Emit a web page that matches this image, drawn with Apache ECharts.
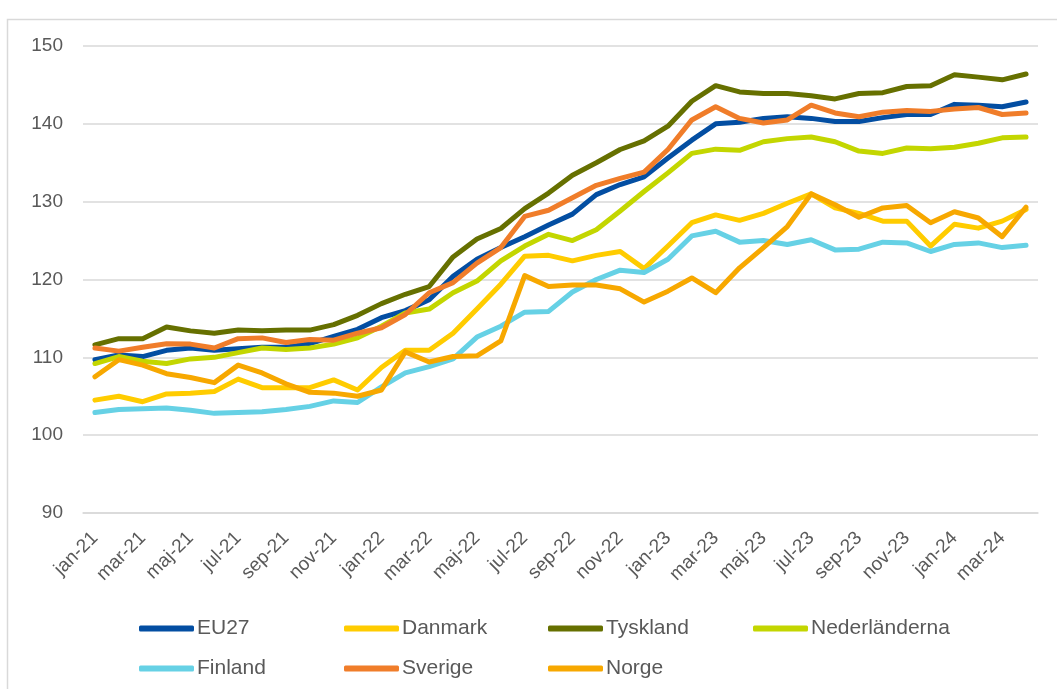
<!DOCTYPE html>
<html>
<head>
<meta charset="utf-8">
<script src="https://cdn.jsdelivr.net/npm/echarts@6/dist/echarts.min.js"></script>
<style>
  html, body { margin: 0; padding: 0; background: #fff; }
  #chart { width: 1057px; height: 689px; }
</style>
</head>
<body>
<div id="chart"></div>
<script>
// månader jan-21 .. apr-24
var months = ['jan-21', 'feb-21', 'mar-21', 'apr-21', 'maj-21', 'jun-21', 'jul-21', 'aug-21', 'sep-21', 'okt-21', 'nov-21', 'dec-21',
  'jan-22', 'feb-22', 'mar-22', 'apr-22', 'maj-22', 'jun-22', 'jul-22', 'aug-22', 'sep-22', 'okt-22', 'nov-22', 'dec-22',
  'jan-23', 'feb-23', 'mar-23', 'apr-23', 'maj-23', 'jun-23', 'jul-23', 'aug-23', 'sep-23', 'okt-23', 'nov-23', 'dec-23',
  'jan-24', 'feb-24', 'mar-24', 'apr-24'];

var eu27 = [109.7, 110.3, 110.1, 110.9, 111.2, 110.9, 111.1, 111.3, 111.3, 111.75, 112.7, 113.6, 115.1, 116.0, 117.4, 120.4, 122.6, 124.1, 125.5, 127.0,
  128.4, 130.9, 132.2, 133.2, 135.6, 137.9, 140.0, 140.2, 140.7, 140.9, 140.7, 140.3, 140.3, 140.8, 141.2, 141.2, 142.5, 142.4, 142.2, 142.8];
var danmark = [104.5, 105.0, 104.3, 105.3, 105.4, 105.6, 107.2, 106.1, 106.1, 106.1, 107.1, 105.8, 108.7, 110.9, 110.9, 113.1, 116.2, 119.4, 123.0, 123.1,
  122.4, 123.1, 123.6, 121.4, 124.3, 127.3, 128.3, 127.6, 128.5, 129.8, 131.0, 129.2, 128.5, 127.5, 127.5, 124.3, 127.1, 126.6, 127.5, 129.0];
var tyskland = [111.6, 112.4, 112.4, 113.9, 113.4, 113.1, 113.5, 113.4, 113.5, 113.5, 114.2, 115.4, 116.9, 118.1, 119.1, 122.9, 125.2, 126.55, 129.1, 131.1,
  133.4, 135.0, 136.7, 137.8, 139.7, 142.9, 144.9, 144.1, 143.9, 143.9, 143.6, 143.2, 143.9, 144.0, 144.8, 144.9, 146.3, 146.0, 145.65, 146.4];
var nederlanderna = [109.2, 110.1, 109.5, 109.2, 109.8, 110.0, 110.6, 111.2, 111.0, 111.2, 111.7, 112.5, 114.0, 115.7, 116.2, 118.3, 119.8, 122.4, 124.3, 125.8,
  125.0, 126.4, 128.8, 131.3, 133.7, 136.2, 136.75, 136.6, 137.7, 138.1, 138.3, 137.7, 136.5, 136.2, 136.9, 136.8, 137.0, 137.5, 138.2, 138.3];
var finland = [102.9, 103.3, 103.4, 103.5, 103.2, 102.8, 102.9, 103.0, 103.3, 103.7, 104.4, 104.2, 106.2, 108.0, 108.8, 109.8, 112.6, 114.0, 115.8, 115.9,
  118.4, 120.0, 121.2, 120.9, 122.6, 125.6, 126.2, 124.8, 125.0, 124.5, 125.1, 123.8, 123.9, 124.8, 124.7, 123.6, 124.5, 124.7, 124.1, 124.4];
var sverige = [111.2, 110.8, 111.3, 111.75, 111.7, 111.2, 112.4, 112.5, 111.9, 112.3, 112.2, 113.1, 113.8, 115.5, 118.3, 119.6, 122.1, 124.1, 128.1, 128.9,
  130.5, 132.1, 133.0, 133.8, 136.7, 140.5, 142.2, 140.7, 140.1, 140.5, 142.4, 141.4, 140.9, 141.5, 141.7, 141.6, 141.9, 142.1, 141.2, 141.4];
var norge = [107.5, 109.7, 109.0, 107.9, 107.4, 106.75, 109.0, 108.0, 106.6, 105.5, 105.4, 105.0, 105.8, 110.7, 109.4, 110.1, 110.2, 112.1, 120.5, 119.1,
  119.3, 119.3, 118.8, 117.1, 118.5, 120.2, 118.3, 121.5, 124.1, 126.8, 131.0, 129.6, 128.0, 129.2, 129.5, 127.3, 128.7, 127.9, 125.5, 129.3];

var names = ['EU27', 'Danmark', 'Tyskland', 'Nederländerna', 'Finland', 'Sverige', 'Norge'];
var values = [eu27, danmark, tyskland, nederlanderna, finland, sverige, norge];
var colors = ['#034EA2', '#FFCC00', '#667000', '#C3D600', '#66D1E5', '#F07D2A', '#F7A800'];

var font = 'Liberation Sans, Arial, sans-serif';

var chart = echarts.init(document.getElementById('chart'));

// legend i två rader, fyra kolumner
var legendPos = [[134, 613], [339, 613], [543, 613], [748, 613], [134, 653], [339, 653], [543, 653]];
var legends = [];
for (var i = 0; i < names.length; i++) {
  legends.push({
    data: [names[i]],
    left: legendPos[i][0],
    top: legendPos[i][1],
    icon: 'roundRect',
    itemWidth: 55,
    itemHeight: 6,
    selectedMode: false,
    textStyle: { color: '#595959', fontSize: 21, fontFamily: font, padding: [0, 0, 0, -2] }
  });
}

var series = [];
for (var i = 0; i < names.length; i++) {
  series.push({
    name: names[i],
    type: 'line',
    data: values[i],
    symbol: 'none',
    color: colors[i],
    lineStyle: { width: 5, color: colors[i], cap: 'round', join: 'round' },
    animation: false
  });
}

var option = {
  backgroundColor: '#fff',
  animation: false,
  graphic: [{
    type: 'rect',
    left: 5, top: 17,
    shape: { width: 1100, height: 700 },
    style: { fill: 'none', stroke: '#D9D9D9', lineWidth: 1.5 },
    silent: true
  }],
  legend: legends,
  grid: { left: 83, right: 19, top: 46, bottom: 176 },
  xAxis: {
    type: 'category',
    boundaryGap: true,
    data: months,
    axisLine: { lineStyle: { color: '#D9D9D9', width: 1.5 } },
    axisTick: { interval: 1, length: 5, lineStyle: { color: '#D9D9D9', width: 1.5 } },
    axisLabel: { interval: 1, rotate: 45, margin: 22, color: '#595959', fontSize: 19, fontFamily: font }
  },
  yAxis: {
    type: 'value',
    min: 90,
    max: 150,
    interval: 10,
    axisLine: { show: false },
    axisTick: { show: false },
    axisLabel: { margin: 20, color: '#595959', fontSize: 19, fontFamily: font },
    splitLine: { lineStyle: { color: '#D9D9D9', width: 1.5 } }
  },
  series: series
};

chart.setOption(option);
</script>
</body>
</html>
